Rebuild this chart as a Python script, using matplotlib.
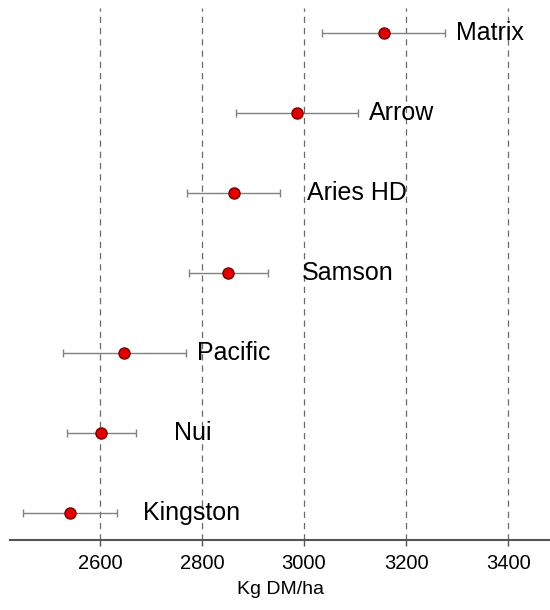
import matplotlib
matplotlib.use("Agg")
import matplotlib.pyplot as plt
import numpy as np

# cultivars, bottom to top
cultivars = ['Kingston', 'Nui', 'Pacific', 'Samson', 'Aries HD', 'Arrow', 'Matrix']
yield_kg = [2542, 2603, 2648, 2852, 2862, 2986, 3156]
err_kg = [92, 67, 120, 78, 91, 120, 120]
# where each name sits along the x axis (Kg DM/ha)
label_x = [2685, 2745, 2790, 2996, 3005, 3128, 3297]
xticks = [2600, 2800, 3000, 3200, 3400]

plt.rcParams['font.family'] = ['Liberation Sans', 'DejaVu Sans']

fig = plt.figure(figsize=(5.5, 6.1), dpi=100)
ax = fig.add_axes([0.0182, 0.1148, 0.9818, 0.872])

ypos = np.arange(1, len(cultivars) + 1)

for xt in xticks:
    ax.axvline(xt, color='#6a6a6a', lw=0.9, ls=(0, (5, 4)), zorder=0)

ax.errorbar(yield_kg, ypos, xerr=err_kg, fmt='none', ecolor='#808080',
            elinewidth=1.0, capsize=3, capthick=1.0, zorder=2)
ax.plot(yield_kg, ypos, 'o', ms=8, mfc='#e00000', mec='#7a0000', mew=1.0, zorder=3)

for name, lx, y in zip(cultivars, label_x, ypos):
    ax.text(lx, y, name, fontsize=18, va='center', ha='left', color='black')

ax.set_xlim(2424, 3482)
ax.set_ylim(0.66, 7.31)
ax.set_xticks(xticks)
ax.set_yticks([])
for s in ['top', 'left', 'right']:
    ax.spines[s].set_visible(False)
ax.spines['bottom'].set_color('#555555')
ax.spines['bottom'].set_linewidth(1.5)
ax.tick_params(axis='x', length=4, width=1, color='#555555', labelsize=14.5, pad=6)
ax.set_xlabel('Kg DM/ha', fontsize=14, labelpad=6)

fig.savefig('out.png', dpi=100)
